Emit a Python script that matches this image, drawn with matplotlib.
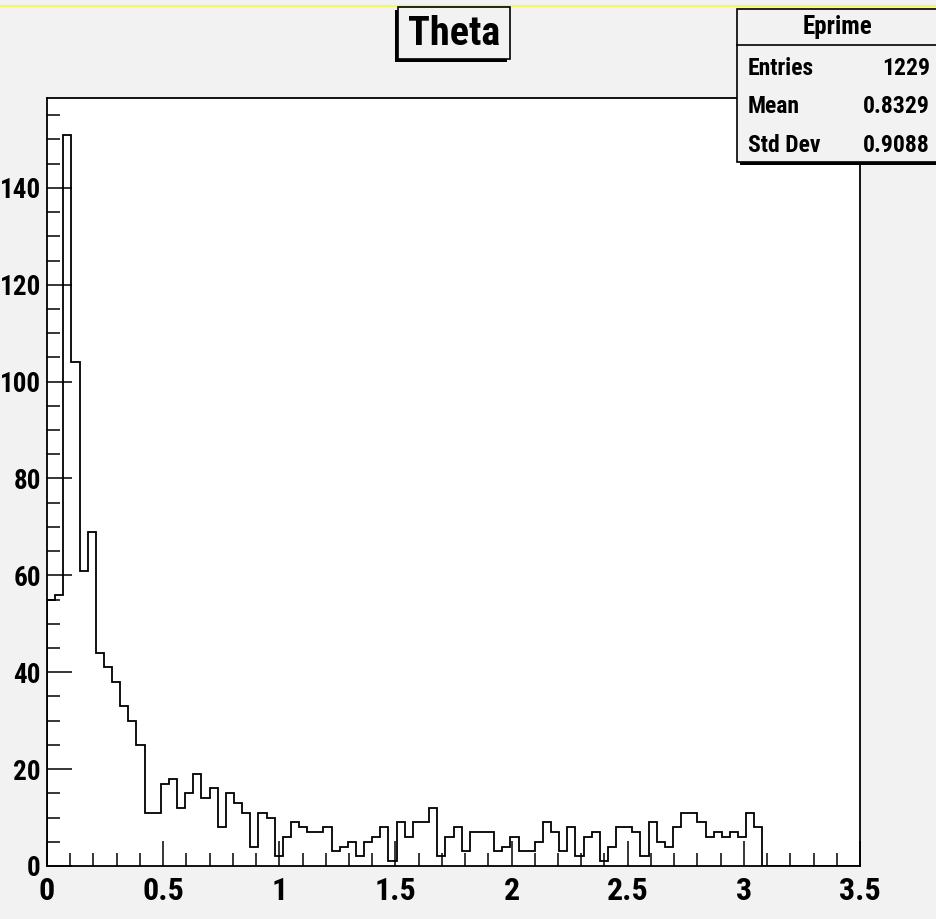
import numpy as np
import matplotlib
matplotlib.use("Agg")
import matplotlib.pyplot as plt
from matplotlib.patches import Rectangle
from matplotlib.lines import Line2D
from matplotlib import font_manager as fm

# ---------------- data ----------------
hist_title = "Theta"
x_min, x_max, n_bins = 0.0, 3.5, 100
counts = [55, 56, 151, 104, 61, 69, 44, 41, 38, 33, 30, 25,
          11, 11, 17, 18, 12, 15, 19, 14, 16, 8, 15, 13, 11, 4, 11, 10, 2,
          6, 9, 8, 7, 7, 8, 3, 4, 5, 2, 5, 6, 8, 1, 9, 6, 9, 9, 12, 2, 6, 8, 3, 7, 7, 7, 3, 4, 6,
          3, 3, 5, 9, 7, 3, 8, 2, 6, 7, 1, 4, 8, 8, 7, 2, 9, 5, 4, 8, 11, 11, 9, 6, 7, 6, 7, 6, 11, 8,
          0, 0, 0, 0, 0, 0, 0, 0, 0, 0, 0, 0]
x_ticks = [0, 0.5, 1, 1.5, 2, 2.5, 3, 3.5]
x_tick_labels = ["0", "0.5", "1", "1.5", "2", "2.5", "3", "3.5"]
y_ticks = [0, 20, 40, 60, 80, 100, 120, 140]
y_tick_labels = ["0", "20", "40", "60", "80", "100", "120", "140"]
stats_name = "Eprime"
stats_labels = ["Entries", "Mean", "Std Dev"]
stats_values = ["1229", "0.8329", "0.9088"]

# ---------------- font choice ----------------
names = {f.name for f in fm.fontManager.ttflist}
cands = ["Roboto Condensed", "Liberation Sans Narrow", "Open Sans Condensed"]
font = "Liberation Sans"
for c in cands:
    if c in names:
        font = c
        break
FONT = [font, "DejaVu Sans"]

W, H = 937, 919
BG = "#f2f2f2"
fig = plt.figure(figsize=(W / 100, H / 100), dpi=100, facecolor=BG)

L, R, T, B = 47, 860, 98, 866
ax = fig.add_axes([L / W, 1 - B / H, (R - L) / W, (B - T) / H])
ax.set_facecolor("white")

edges = np.linspace(x_min, x_max, n_bins + 1)
ax.stairs(counts, edges, color="black", linewidth=1.3, baseline=0)

ymax = 1.05 * max(counts)
ax.set_xlim(x_min, x_max)
ax.set_ylim(0, ymax)

ax.set_xticks(x_ticks)
ax.set_xticklabels(x_tick_labels)
ax.set_yticks(y_ticks)
ax.set_yticklabels(y_tick_labels)
ax.xaxis.set_minor_locator(matplotlib.ticker.MultipleLocator(0.1))
ax.yaxis.set_minor_locator(matplotlib.ticker.MultipleLocator(5))
ax.tick_params(which="major", direction="in", length=18, width=1.1, color="black")
ax.tick_params(which="minor", direction="in", length=9.5, width=1.1, color="black")
ax.tick_params(axis="x", which="major", pad=7)
ax.tick_params(axis="y", which="major", pad=4.5)
for lab in ax.get_xticklabels():
    lab.set_family(FONT)
    lab.set_fontweight("bold")
    lab.set_fontsize(23)
for lab in ax.get_yticklabels():
    lab.set_family(FONT)
    lab.set_fontweight("bold")
    lab.set_fontsize(19.5)
for s in ax.spines.values():
    s.set_linewidth(1.3)
    s.set_color("black")


def fx(x):
    return x / W


def fy(y):
    return 1 - y / H


def rect(x0, y0, x1, y1, **kw):
    r = Rectangle((fx(x0), fy(y1)), fx(x1) - fx(x0), fy(y0) - fy(y1),
                  transform=fig.transFigure, **kw)
    fig.add_artist(r)
    return r


# yellow line at top
fig.add_artist(Line2D([0, 1], [fy(5.5), fy(5.5)], transform=fig.transFigure,
                      color="#f5f56a", linewidth=1.6))

# title box with shadow
rect(395, 10, 507, 62, facecolor="black", edgecolor="none", zorder=4)
rect(398, 7, 510, 59, facecolor=BG, edgecolor="black", linewidth=1.2, zorder=5)
fig.text(fx(454), fy(34), hist_title, ha="center", va="center", fontsize=29,
         fontweight="bold", family=FONT, zorder=6)

# stats box with shadow
rect(740, 12, 960, 165, facecolor="black", edgecolor="none", zorder=4)
rect(737, 9, 957, 162, facecolor=BG, edgecolor="black", linewidth=1.2, zorder=5)
fig.add_artist(Line2D([fx(737), fx(957)], [fy(45), fy(45)], transform=fig.transFigure,
                      color="black", linewidth=1.2, zorder=6))
fig.text(fx(838), fy(27), stats_name, ha="center", va="center", fontsize=18,
         fontweight="bold", family=FONT, zorder=6)
for i, (lab, val) in enumerate(zip(stats_labels, stats_values)):
    yb = [75, 113, 152][i]
    fig.text(fx(748), fy(yb), lab, ha="left", va="baseline", fontsize=17,
             fontweight="bold", family=FONT, zorder=6)
    fig.text(fx(930), fy(yb), val, ha="right", va="baseline", fontsize=17,
             fontweight="bold", family=FONT, zorder=6)

fig.savefig("out.png", dpi=100, facecolor=BG)
